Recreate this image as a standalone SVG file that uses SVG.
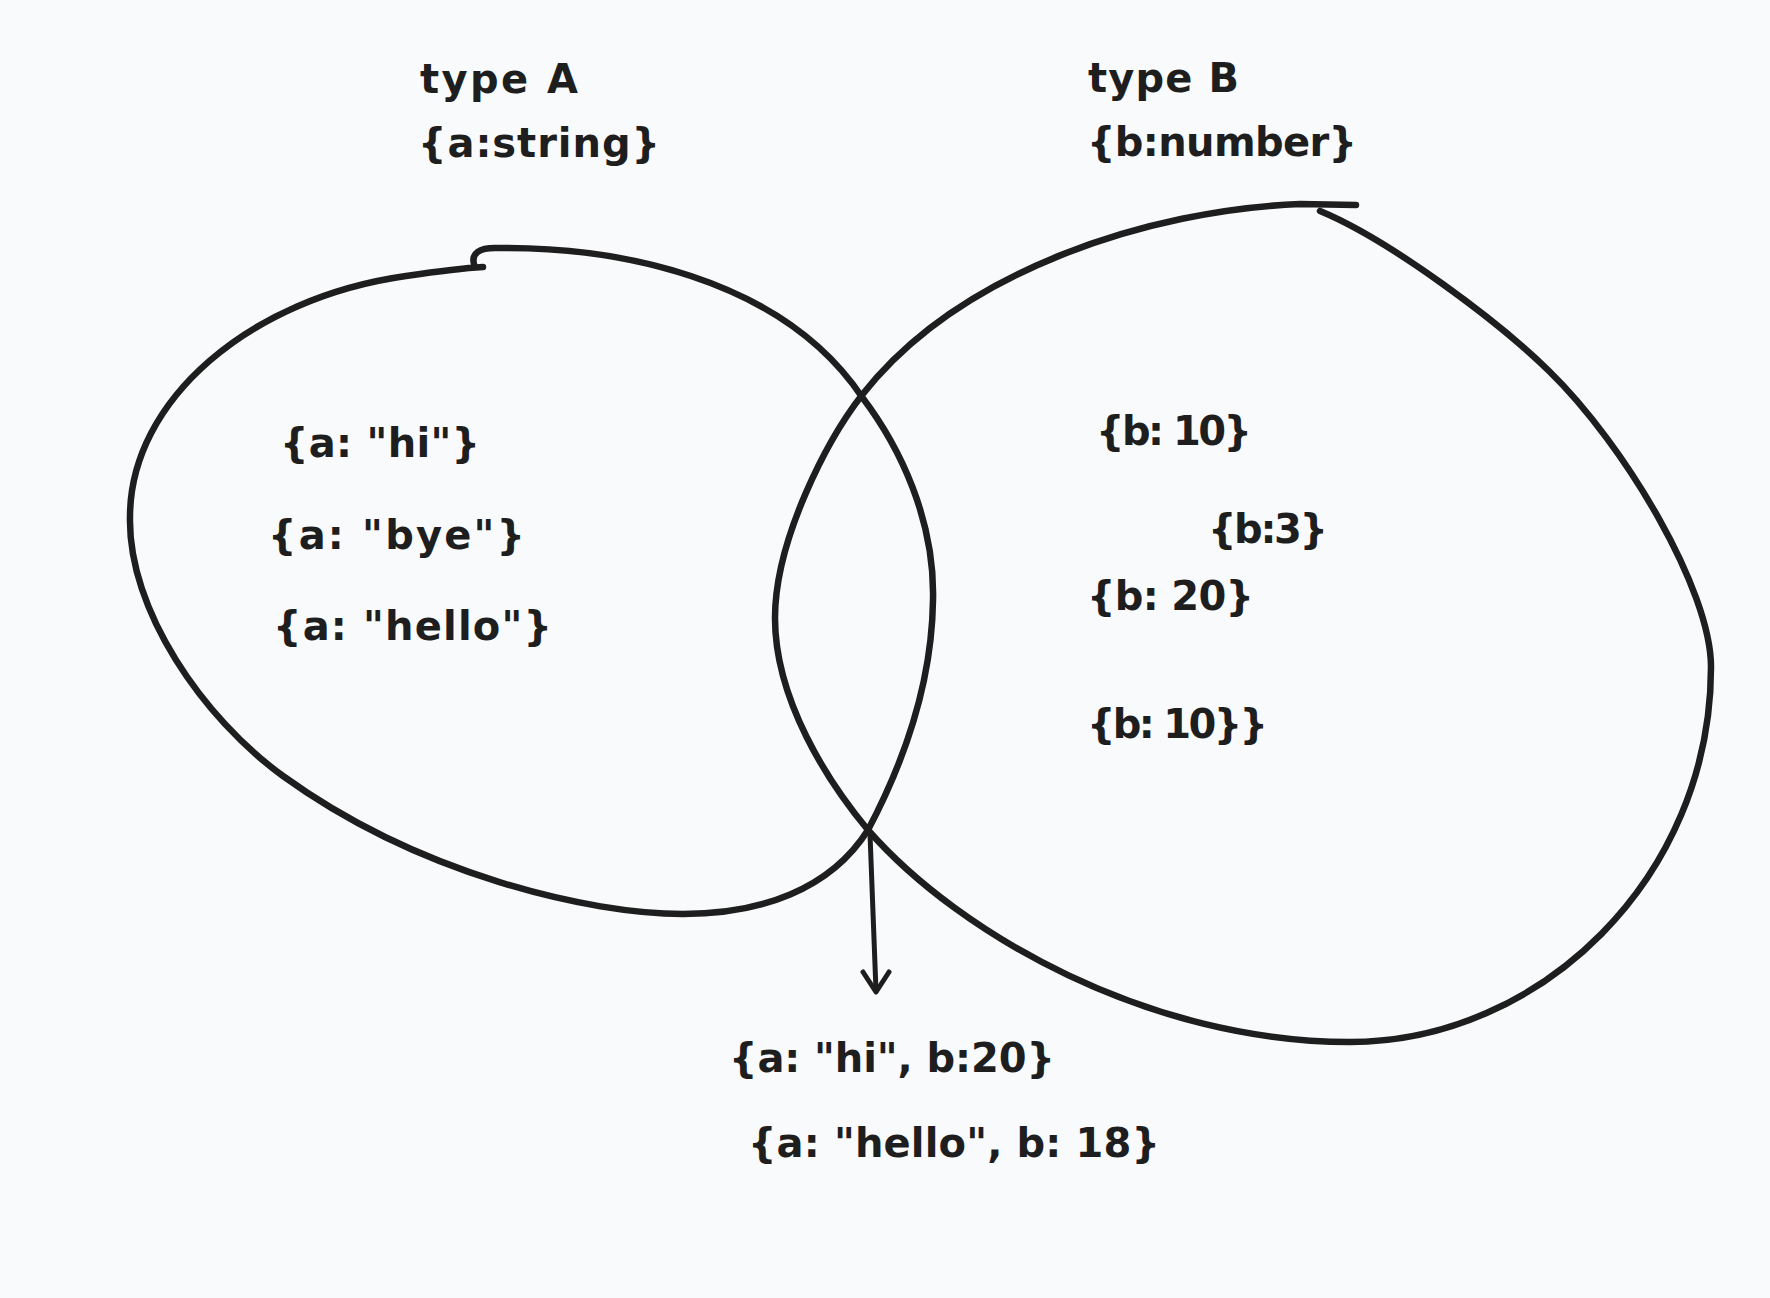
<svg xmlns="http://www.w3.org/2000/svg" width="1770" height="1298" viewBox="0 0 1770 1298">
  <style>
    .set { fill: none; stroke: #1e1e1e; stroke-width: 6.5; stroke-linecap: round; stroke-linejoin: round; }
    .conn { fill: none; stroke: #1e1e1e; stroke-width: 5; stroke-linecap: round; stroke-linejoin: round; }
    .lbl { font-family: "DejaVu Sans", "Liberation Sans", sans-serif; font-weight: bold; font-size: 40px; fill: #1e1e1e; }
  </style>
  <rect x="0" y="0" width="1770" height="1298" fill="#f9fafb"/>

  <g id="setA">
    <path class="set" d="M 474,264 C 471,253 480,248 495,248 C 610,246 780,275 862,397 C 900,447 935,520 933,600 C 932,680 905,760 868,830 C 830,890 760,914 683,914 C 590,914 420,875 283,776 C 203,718 128,610 130,517 C 130,400 250,298 406,276 C 440,271 465,268 483,267"/>
    <text class="lbl" x="420" y="93" textLength="158">type A</text>
    <text class="lbl" x="418" y="157" textLength="242">{a:string}</text>
    <text class="lbl" x="280" y="457" textLength="200">{a: "hi"}</text>
    <text class="lbl" x="268" y="549" textLength="257">{a: "bye"}</text>
    <text class="lbl" x="273" y="640" textLength="279">{a: "hello"}</text>
  </g>

  <g id="setB">
    <path class="set" d="M 1356,205 L 1300,204 C 1150,210 960,270 862,395 C 827,440 775,540 775,618 C 775,700 828,782 868,830 C 960,935 1150,1042 1350,1042 C 1540,1042 1711,878 1711,667 C 1711,590 1625,445 1549,371 C 1499,322 1390,240 1320,211"/>
    <text class="lbl" x="1088" y="92" textLength="151">type B</text>
    <text class="lbl" x="1087" y="156" textLength="270">{b:number}</text>
    <text class="lbl" x="1096" y="445" textLength="156">{b: 10}</text>
    <text class="lbl" x="1208" y="543" textLength="120">{b:3}</text>
    <text class="lbl" x="1087" y="610" textLength="167">{b: 20}</text>
    <text class="lbl" x="1087" y="738" textLength="181">{b: 10}}</text>
  </g>

  <g id="intersection">
    <text class="lbl" x="729" y="1072" textLength="326">{a: "hi", b:20}</text>
    <text class="lbl" x="748" y="1157" textLength="412">{a: "hello", b: 18}</text>
  </g>

  <g id="connectors">
    <path class="conn" d="M 870,834 L 876,991"/>
    <path class="conn" d="M 863,972 L 876,992 L 889,972"/>
  </g>
</svg>
